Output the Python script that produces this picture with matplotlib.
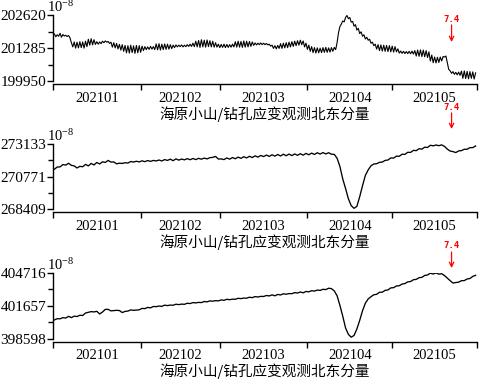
import numpy as np
import matplotlib
matplotlib.use("Agg")
import matplotlib.pyplot as plt

plt.rcParams['font.family'] = ['Liberation Serif', 'DejaVu Serif']
plt.rcParams['mathtext.fontset'] = 'stix'

# ---------------- data ----------------
month_labels = ["202101", "202102", "202103", "202104", "202105"]
month_bounds = [0, 31, 59, 90, 120, 150]          # day numbers from 2021-01-01
quake_day = 141                                   # 2021-05-22
quake_label = "7.4"
title_text = "海原小山/钻孔应变观测北东分量"
unit_text = r"$\mathregular{10^{-8}}$"

yticks1 = [199950, 201285, 202620]
yticks2 = [268409, 270771, 273133]
yticks3 = [398598, 401657, 404716]

# panel 1: half-day samples (day 0.5 .. 149.5)
days1 = np.arange(0.5, 150.0, 0.5)
vals1 = [
    201850, 201740, 201820, 201760, 201880, 201720, 201830, 201770, 201800, 201750,
    201790, 201700, 201500, 201330, 201530, 201280, 201520, 201290, 201540, 201300,
    201530, 201280, 201560, 201340, 201640, 201400, 201660, 201410, 201620, 201430,
    201540, 201440, 201530, 201460, 201560, 201500, 201570, 201520, 201550, 201470,
    201520, 201320, 201500, 201290, 201470, 201250, 201430, 201200, 201420, 201150,
    201390, 201090, 201380, 201080, 201400, 201100, 201370, 201070, 201390, 201090,
    201380, 201110, 201360, 201180, 201340, 201220, 201330, 201230, 201350, 201240,
    201340, 201220, 201450, 201210, 201460, 201200, 201440, 201220, 201450, 201230,
    201440, 201240, 201420, 201260, 201400, 201300, 201410, 201330, 201400, 201340,
    201410, 201330, 201400, 201340, 201420, 201350, 201440, 201350, 201480, 201340,
    201560, 201330, 201590, 201310, 201620, 201330, 201600, 201320, 201610, 201340,
    201580, 201330, 201560, 201320, 201500, 201320, 201440, 201300, 201430, 201310,
    201440, 201300, 201430, 201310, 201420, 201320, 201440, 201330, 201540, 201320,
    201560, 201320, 201550, 201310, 201570, 201320, 201560, 201330, 201550, 201350,
    201530, 201390, 201490, 201410, 201480, 201420, 201490, 201420, 201480, 201420,
    201470, 201410, 201440, 201360, 201400, 201270, 201380, 201250, 201390, 201270,
    201460, 201270, 201480, 201290, 201500, 201300, 201520, 201330, 201540, 201350,
    201560, 201380, 201580, 201400, 201600, 201420, 201570, 201330, 201480, 201230,
    201400, 201150, 201340, 201100, 201300, 201080, 201290, 201090, 201280, 201100,
    201300, 201110, 201310, 201110, 201290, 201120, 201300, 201150, 201310, 201220,
    201500, 201900, 202150, 202250, 202380, 202340, 202520, 202600, 202470, 202520,
    202330, 202360, 202170, 202230, 202010, 202080, 201870, 201940, 201760, 201820,
    201650, 201720, 201600, 201640, 201480, 201520, 201380, 201440, 201240, 201420,
    201180, 201410, 201160, 201400, 201150, 201390, 201140, 201380, 201130, 201360,
    201120, 201340, 201130, 201250, 201080, 201160, 201070, 201150, 201060, 201140,
    201060, 201150, 201050, 201160, 201040, 201180, 200960, 201200, 200950, 201210,
    200940, 201200, 200930, 201180, 200900, 201130, 200760, 201000, 200690, 200920,
    200680, 200910, 200700, 200920, 200760, 200940, 200920, 200960, 200700, 200420,
    200360, 200260, 200330, 200220, 200300, 200200, 200310, 200180, 200350, 200060,
    200360, 200050, 200340, 200040, 200330, 200060, 200320, 200030, 200280,
]

# panels 2 and 3: daily samples (day 0.5 .. 149.5)
days23 = np.arange(0.5, 150.0, 1.0)
vals2 = [
    271300, 271460, 271470, 271640, 271600, 271730, 271580, 271540, 271390, 271510,
    271480, 271650, 271540, 271720, 271610, 271790, 271680, 271840, 271790, 271940,
    271820, 271830, 271690, 271740, 271720, 271770, 271750, 271860, 271820, 271880,
    271830, 271910, 271850, 271930, 271870, 271940, 271900, 271970, 271900, 272000,
    271940, 272030, 271920, 272050, 271960, 272040, 271980, 272070, 271990, 272080,
    272000, 272090, 272030, 272110, 272050, 272140, 272160, 272230, 272040, 272050,
    272000, 272120, 272030, 272150, 272060, 272180, 272090, 272210, 272120, 272240,
    272150, 272270, 272180, 272300, 272220, 272330, 272230, 272350, 272250, 272370,
    272260, 272390, 272280, 272400, 272290, 272410, 272310, 272430, 272320, 272450,
    272350, 272470, 272370, 272500, 272400, 272510, 272410, 272500, 272390, 272380,
    272100, 271500, 270600, 269900, 269150, 268650, 268460, 268600, 269300, 270100,
    270850, 271250, 271550, 271680, 271700, 271800, 271820, 271940, 271970, 272120,
    272110, 272250, 272240, 272390, 272380, 272530, 272520, 272670, 272650, 272790,
    272760, 272900, 272880, 273040, 273000, 273060, 273010, 273070, 272960, 272760,
    272620, 272580, 272510, 272630, 272650, 272750, 272750, 272870, 272870, 272990,
]
vals3 = [
    400350, 400460, 400450, 400560, 400520, 400680, 400560, 400700, 400660, 400780,
    400760, 400990, 401060, 401120, 401090, 401150, 400900, 401080, 401330, 401330,
    401190, 401210, 401240, 401220, 401030, 401140, 401170, 401280, 401240, 401270,
    401290, 401420, 401400, 401510, 401470, 401600, 401580, 401640, 401610, 401720,
    401680, 401730, 401710, 401810, 401770, 401820, 401800, 401900, 401870, 401960,
    401930, 401980, 401960, 402060, 402030, 402120, 402090, 402140, 402120, 402210,
    402170, 402270, 402230, 402280, 402270, 402360, 402330, 402380, 402370, 402460,
    402420, 402520, 402480, 402540, 402530, 402620, 402580, 402680, 402590, 402720,
    402670, 402780, 402740, 402800, 402790, 402890, 402850, 402950, 402870, 403000,
    402960, 403070, 403030, 403130, 403090, 403200, 403170, 403300, 403260, 403050,
    402600, 401700, 400700, 399600, 399000, 398740, 398900, 399500, 400300, 401200,
    401900, 402300, 402510, 402690, 402730, 402920, 402930, 403100, 403140, 403330,
    403350, 403510, 403530, 403690, 403730, 403890, 403920, 404090, 404120, 404280,
    404310, 404490, 404530, 404700, 404620, 404720, 404610, 404650, 404480, 404240,
    404000, 403780, 403830, 403860, 404000, 404010, 404160, 404200, 404400, 404500,
]

# ---------------- layout ----------------
W, H = 482, 382
fig = plt.figure(figsize=(W / 100, H / 100), dpi=100)

def fx(px):
    return px / W

def fy(py):
    return 1 - py / H

# (x, y, yticks, top px, bottom px, title-center px, quake text px, arrow tail px, arrow tip px, lw)
panels = [
    (days1, vals1, yticks1, 15, 81, 114, 20, 25, 42, 0.8),
    (days23, vals2, yticks2, 144, 209, 242, 108, 113, 129, 0.95),
    (days23, vals3, yticks3, 273, 338.7, 371.5, 246, 252, 268, 0.95),
]

left_px, right_px = 53, 477
mids = [(month_bounds[i] + month_bounds[i + 1]) / 2 for i in range(len(month_labels))]

for (x, y, yt, top, bot, tpy, qt, qa0, qa1, lw) in panels:
    ax = fig.add_axes([fx(left_px), fy(bot), fx(right_px - left_px), (bot - top) / H])
    ax.plot(x, y, color='black', lw=lw)
    ax.set_xlim(month_bounds[0], month_bounds[-1])
    ax.set_ylim(yt[0], yt[-1])
    ax.spines['top'].set_visible(False)
    ax.spines['right'].set_visible(False)
    ax.spines['left'].set_linewidth(1.0)
    ax.spines['bottom'].set_linewidth(1.0)
    ax.spines['bottom'].set_position(('outward', 2.2))

    ax.set_yticks(yt)
    ax.set_yticklabels([str(v) for v in yt], fontsize=11)
    ax.set_yticks([(yt[0] + yt[1]) / 2, (yt[1] + yt[2]) / 2], minor=True)
    ax.tick_params(axis='y', which='major', direction='out', length=4, width=1.0, pad=1)
    ax.tick_params(axis='y', which='minor', direction='out', length=3.5, width=1.0)

    ax.set_xticks(month_bounds)
    ax.set_xticklabels([])
    ax.set_xticks(mids, minor=True)
    ax.set_xticklabels(month_labels, minor=True, fontsize=10.5)
    ax.tick_params(axis='x', which='major', direction='out', length=4, width=1.0)
    ax.tick_params(axis='x', which='minor', length=0, pad=5.5)

    ax.annotate(unit_text, xy=(0, 1), xycoords='axes fraction',
                xytext=(-6, 0), textcoords='offset pixels',
                ha='left', va='bottom', fontsize=10.5)

    fig.text(0.5 * (fx(left_px) + fx(right_px)), fy(tpy), title_text,
             family=['Noto Sans CJK SC', 'DejaVu Sans'], fontsize=10.5,
             ha='center', va='center')

    # earthquake marker
    ax.annotate(quake_label, xy=(quake_day, fy(qt)), xycoords=('data', 'figure fraction'),
                ha='center', va='center', color='red', fontsize=6.5,
                family='DejaVu Sans Mono', fontweight='bold', annotation_clip=False)
    ax.annotate('', xy=(quake_day, fy(qa1)), xycoords=('data', 'figure fraction'),
                xytext=(quake_day, fy(qa0)), textcoords=('data', 'figure fraction'),
                arrowprops=dict(arrowstyle='->', color='red', lw=0.9,
                                shrinkA=0, shrinkB=0, mutation_scale=8),
                annotation_clip=False)

fig.savefig("out.png", dpi=100)
